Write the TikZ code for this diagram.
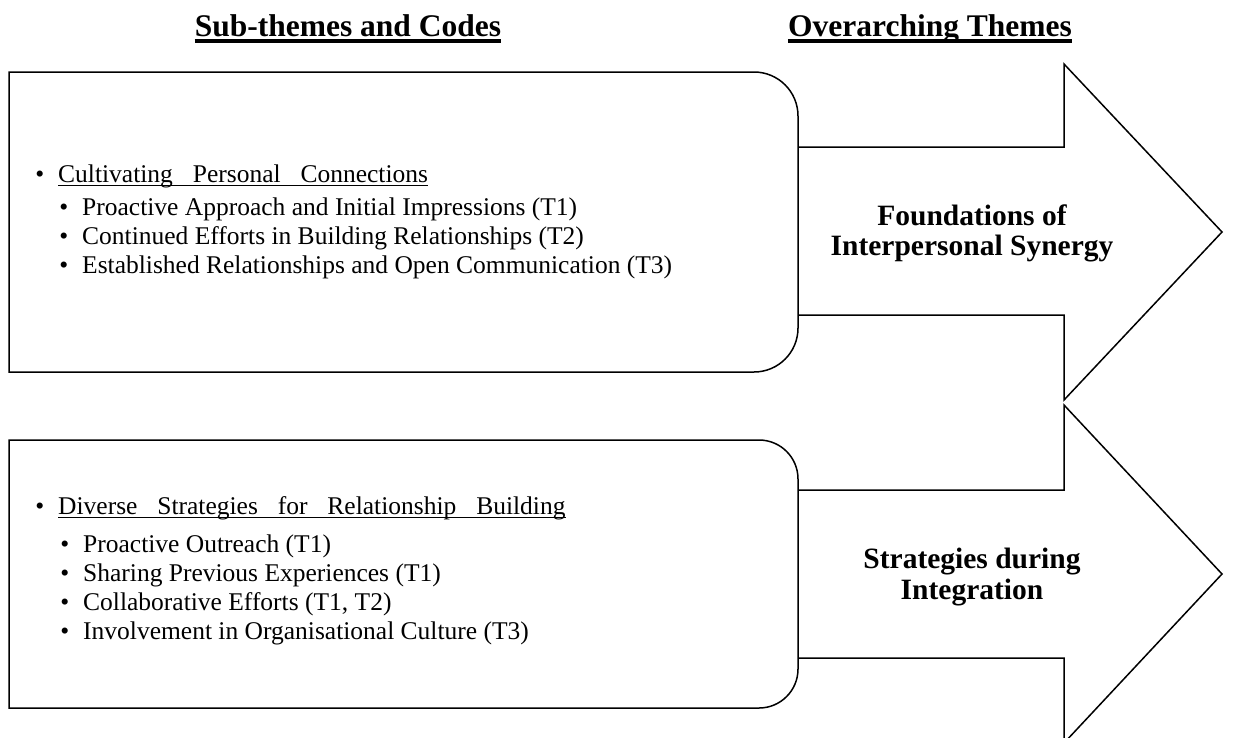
\documentclass[tikz,border=0pt]{standalone}
\usepackage{fontspec}
\setmainfont{Liberation Serif}
\usetikzlibrary{positioning}

\tikzset{
    outline/.style={draw=black, line width=1.5pt, fill=white, line join=miter},
    heading/.style={font=\fontsize{31.5}{32}\selectfont\bfseries, inner sep=0pt, anchor=base},
    theme/.style={font=\fontsize{29.5}{30}\selectfont\bfseries, inner sep=0pt, anchor=base},
    item/.style={font=\fontsize{25.5}{26}\selectfont, inner sep=0pt, anchor=base west},
}
\newcommand{\bul}{\llap{\textbullet\hspace{14pt}}}
\newcommand{\gap}{\hspace{0.78em}}

\begin{document}
\begin{tikzpicture}[x=1pt, y=-1pt]
    \useasboundingbox (0,0) rectangle (1244,737);

    % column headings
    \node[heading] (subhead) at (348,36) {Sub-themes and Codes};
    \node[heading] (overhead) at (930,36) {Overarching Themes};
    \foreach \h in {subhead, overhead} {
        \draw[line width=3.5pt] ([yshift=-5pt]\h.base west) -- ([yshift=-5pt]\h.base east);
    }

    % block arrows, drawn first so the boxes cover their tails
    \draw[outline] (700,147) -- (1064,147) -- (1064,64) -- (1222,232)
        -- (1064,400) -- (1064,315) -- (700,315) -- cycle;
    \draw[outline] (700,490) -- (1064,490) -- (1064,405) -- (1222,574)
        -- (1064,743) -- (1064,658) -- (700,658) -- cycle;

    % boxes: square on the left, rounded on the right
    \draw[outline] (9,72) -- (754,72) arc[start angle=-90, end angle=0, radius=44]
        -- (798,328) arc[start angle=0, end angle=90, radius=44] -- (9,372) -- cycle;
    \draw[outline] (9,440) -- (759,440) arc[start angle=-90, end angle=0, radius=39]
        -- (798,669) arc[start angle=0, end angle=90, radius=39] -- (9,708) -- cycle;

    % first box
    \node[item] (cultivate) at (58,182) {\bul Cultivating\gap Personal\gap Connections};
    \draw[line width=1pt] ([yshift=-3pt]cultivate.base west) -- ([yshift=-3pt]cultivate.base east);
    \foreach \txt [count=\i] in {
        Proactive Approach and Initial Impressions (T1),
        Continued Efforts in Building Relationships (T2),
        Established Relationships and Open Communication (T3)} {
        \node[item] (codeA\i) at (82,{186+29*\i}) {\bul \txt};
    }

    % second box
    \node[item] (diverse) at (58,514) {\bul Diverse\gap Strategies\gap for\gap Relationship\gap Building};
    \draw[line width=1pt] ([yshift=-3pt]diverse.base west) -- ([yshift=-3pt]diverse.base east);
    \foreach \txt [count=\i] in {
        Proactive Outreach (T1),
        Sharing Previous Experiences (T1),
        {Collaborative Efforts (T1, T2)},
        Involvement in Organisational Culture (T3)} {
        \node[item] (codeB\i) at (83,{523+29*\i}) {\bul \txt};
    }

    % theme labels inside the arrows
    \node[theme] (themeA1) at (972,225) {Foundations of};
    \node[theme] (themeA2) at (972,255) {Interpersonal Synergy};
    \node[theme] (themeB1) at (972,568) {Strategies during};
    \node[theme] (themeB2) at (972,599) {Integration};
\end{tikzpicture}
\end{document}
